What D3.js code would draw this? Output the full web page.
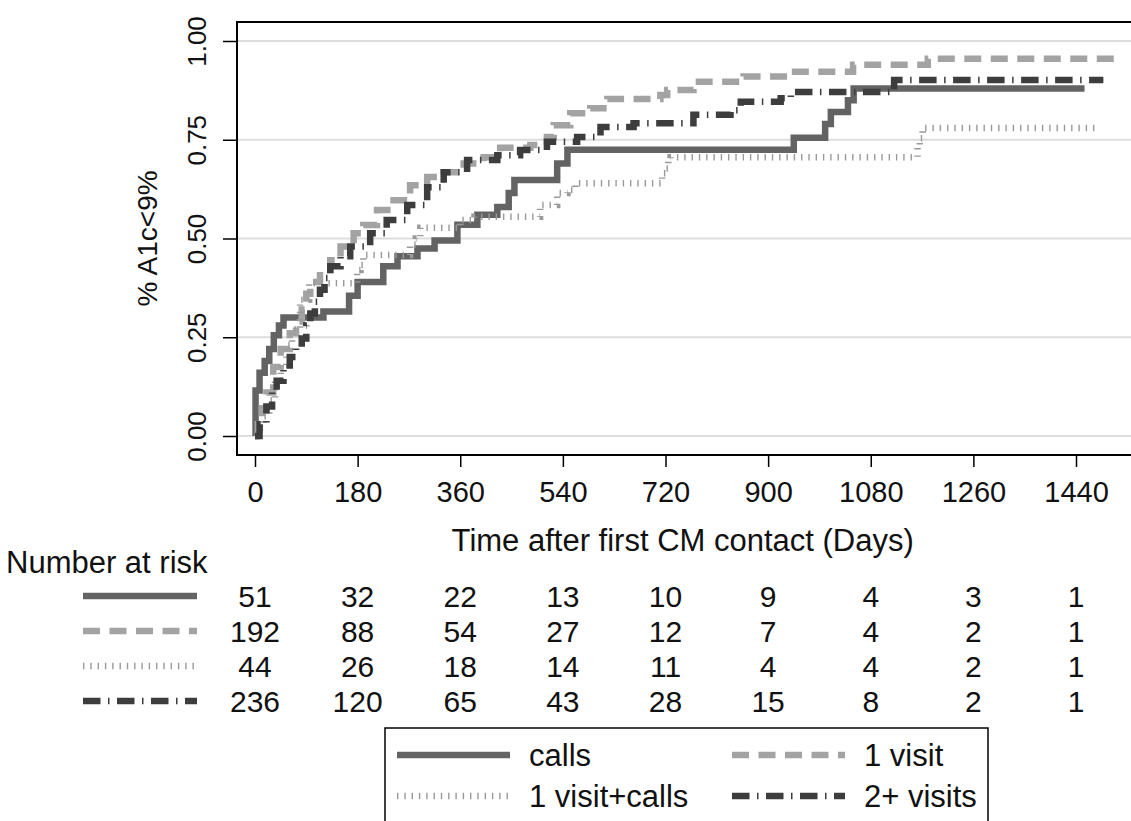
<!DOCTYPE html>
<html>
<head>
<meta charset="utf-8">
<script src="https://cdn.jsdelivr.net/npm/d3@7"></script>
<style>
  body { margin: 0; background: #fff; }
  svg text { font-family: "Liberation Sans", Arial, sans-serif; fill: #111; }
</style>
</head>
<body>
<svg id="chart" width="1131" height="821"></svg>
<script>
// ---- data ----
const groups = ["calls", "1 visit", "1 visit+calls", "2+ visits"];

const callsT = [0, 1, 8, 17, 25, 33, 42, 50, 120, 165, 180, 225, 250, 285, 315, 355, 390, 425, 445, 455, 530, 548, 945, 1000, 1010, 1040, 1050, 1455];
const callsV = [0, 0.115, 0.16, 0.19, 0.22, 0.255, 0.28, 0.30, 0.315, 0.355, 0.39, 0.43, 0.455, 0.475, 0.495, 0.535, 0.56, 0.58, 0.615, 0.648, 0.69, 0.725, 0.755, 0.79, 0.82, 0.85, 0.88, 0.88];

const oneVisitT = [0, 5, 12, 20, 32, 45, 61, 72, 82, 90, 97, 114, 132, 150, 173, 190, 214, 243, 272, 302, 331, 366, 401, 430, 483, 512, 524, 553, 588, 618, 711, 723, 769, 857, 934, 1049, 1180, 1516];
const oneVisitV = [0, 0.03, 0.07, 0.11, 0.175, 0.22, 0.26, 0.29, 0.32, 0.36, 0.39, 0.42, 0.445, 0.48, 0.513, 0.534, 0.572, 0.597, 0.635, 0.656, 0.668, 0.69, 0.706, 0.73, 0.737, 0.757, 0.787, 0.817, 0.83, 0.853, 0.863, 0.876, 0.897, 0.91, 0.922, 0.94, 0.955, 0.955];

const visitCallsT = [0, 5, 15, 25, 35, 45, 55, 65, 79, 95, 179, 185, 190, 272, 282, 290, 360, 385, 500, 530, 548, 562, 714, 720, 725, 729, 1162, 1166, 1171, 1478];
const visitCallsV = [0, 0.02, 0.05, 0.09, 0.14, 0.18, 0.23, 0.27, 0.345, 0.387, 0.42, 0.433, 0.458, 0.484, 0.50, 0.527, 0.547, 0.555, 0.585, 0.615, 0.623, 0.64, 0.665, 0.677, 0.699, 0.706, 0.73, 0.754, 0.78, 0.78];

const twoPlusT = [0, 8, 20, 30, 38, 50, 61, 72, 82, 90, 97, 105, 114, 122, 132, 150, 167, 202, 231, 267, 302, 331, 372, 425, 465, 512, 565, 606, 664, 769, 834, 852, 922, 940, 1121, 1488];
const twoPlusV = [0, 0.03, 0.075, 0.11, 0.14, 0.17, 0.20, 0.225, 0.247, 0.28, 0.31, 0.34, 0.37, 0.40, 0.43, 0.455, 0.48, 0.513, 0.547, 0.585, 0.63, 0.668, 0.699, 0.711, 0.724, 0.745, 0.757, 0.782, 0.792, 0.813, 0.825, 0.846, 0.855, 0.871, 0.901, 0.901];

const xTicks = [0, 180, 360, 540, 720, 900, 1080, 1260, 1440];
const yTicks = [0, 0.25, 0.5, 0.75, 1];

const riskCalls = [51, 32, 22, 13, 10, 9, 4, 3, 1];
const riskOneVisit = [192, 88, 54, 27, 12, 7, 4, 2, 1];
const riskVisitCalls = [44, 26, 18, 14, 11, 4, 4, 2, 1];
const riskTwoPlus = [236, 120, 65, 43, 28, 15, 8, 2, 1];

// ---- styles per group ----
const series = [
  { name: groups[0], t: callsT, v: callsV, risk: riskCalls, color: "#636363", width: 6.5, dash: null },
  { name: groups[1], t: oneVisitT, v: oneVisitV, risk: riskOneVisit, color: "#a3a3a3", width: 6.5, dash: "17,9.5" },
  { name: groups[2], t: visitCallsT, v: visitCallsV, risk: riskVisitCalls, color: "#9a9a9a", width: 6.5, dash: "1.4,5.9" },
  { name: groups[3], t: twoPlusT, v: twoPlusV, risk: riskTwoPlus, color: "#3d3d3d", width: 6.5, dash: "17.5,7.5,1.5,7.5" }
];

const svg = d3.select("#chart");
const x = d3.scaleLinear().domain([0, 1440]).range([255, 1076]);
const y = d3.scaleLinear().domain([0, 1]).range([436, 41]);

const frameLeft = 237, frameTop = 22, frameBottom = 455;
const frameRight = x(1560);

// grid lines
svg.append("g")
  .selectAll("line")
  .data(yTicks)
  .join("line")
  .attr("x1", frameLeft)
  .attr("x2", frameRight)
  .attr("y1", d => y(d))
  .attr("y2", d => y(d))
  .attr("stroke", "#dddddd")
  .attr("stroke-width", 2);

// curves
const line = d3.line()
  .x(d => x(d[0]))
  .y(d => y(d[1]))
  .curve(d3.curveStepAfter);

svg.append("g")
  .selectAll("path")
  .data(series)
  .join("path")
  .attr("d", s => line(s.t.map((t, i) => [t, s.v[i]])))
  .attr("fill", "none")
  .attr("stroke", s => s.color)
  .attr("stroke-width", s => s.width)
  .attr("stroke-dasharray", s => s.dash);

// frame
svg.append("path")
  .attr("d", `M${frameRight},${frameTop}H${frameLeft}V${frameBottom}H${frameRight}`)
  .attr("fill", "none")
  .attr("stroke", "#000")
  .attr("stroke-width", 2);

// x axis
const xAxis = svg.append("g")
  .attr("transform", `translate(0,${frameBottom})`)
  .call(d3.axisBottom(x).tickValues(xTicks).tickSize(12).tickPadding(14).tickFormat(d3.format("d")));
xAxis.select(".domain").remove();
xAxis.selectAll(".tick line").attr("stroke", "#000").attr("stroke-width", 1.5);
xAxis.selectAll(".tick text")
  .attr("font-size", 29)
  .attr("font-family", "Liberation Sans, Arial, sans-serif")
  .attr("fill", "#111");

// y axis
const yAxis = svg.append("g")
  .attr("transform", `translate(${frameLeft},0)`)
  .call(d3.axisLeft(y).tickValues(yTicks).tickSize(14).tickFormat(d3.format(".2f")));
yAxis.select(".domain").remove();
yAxis.selectAll(".tick line").attr("stroke", "#000").attr("stroke-width", 1.5);
yAxis.selectAll(".tick text")
  .attr("x", null)
  .attr("dy", "0.35em")
  .attr("text-anchor", "middle")
  .attr("transform", "translate(-40,0) rotate(-90)")
  .attr("font-size", 26)
  .attr("font-family", "Liberation Sans, Arial, sans-serif")
  .attr("fill", "#111");

// axis titles
svg.append("text")
  .attr("x", (frameLeft + frameRight) / 2 - 8)
  .attr("y", 540)
  .attr("dy", "0.35em")
  .attr("text-anchor", "middle")
  .attr("font-size", 31)
  .text("Time after first CM contact (Days)");

svg.append("text")
  .attr("transform", `translate(147,${(frameTop + frameBottom) / 2}) rotate(-90)`)
  .attr("dy", "0.35em")
  .attr("text-anchor", "middle")
  .attr("font-size", 28)
  .text("% A1c<9%");

// number at risk table
svg.append("text")
  .attr("x", 6)
  .attr("y", 562)
  .attr("dy", "0.35em")
  .attr("font-size", 31)
  .text("Number at risk");

const rowY = d3.scalePoint().domain(groups).range([596, 701]);

const rows = svg.append("g")
  .selectAll("g")
  .data(series)
  .join("g")
  .attr("transform", s => `translate(0,${rowY(s.name)})`);

rows.append("line")
  .attr("x1", 83)
  .attr("x2", 197)
  .attr("stroke", s => s.color)
  .attr("stroke-width", s => s.width)
  .attr("stroke-dasharray", s => s.dash);

rows.selectAll("text")
  .data(s => s.risk.map((n, i) => ({ n, t: xTicks[i] })))
  .join("text")
  .attr("x", d => x(d.t))
  .attr("dy", "0.35em")
  .attr("text-anchor", "middle")
  .attr("font-size", 30)
  .text(d => d.n);

// legend
const legendLeft = 385, legendTop = 728, legendRight = 988;
svg.append("rect")
  .attr("x", legendLeft)
  .attr("y", legendTop)
  .attr("width", legendRight - legendLeft)
  .attr("height", 120)
  .attr("fill", "#fff")
  .attr("stroke", "#000")
  .attr("stroke-width", 1.5);

const legendCol = [397, 732];
const legendRow = [755, 796];
const legendPos = [[0, 0], [1, 0], [0, 1], [1, 1]];

const items = svg.append("g")
  .selectAll("g")
  .data(series)
  .join("g")
  .attr("transform", (s, i) => `translate(${legendCol[legendPos[i][0]]},${legendRow[legendPos[i][1]]})`);

items.append("line")
  .attr("x1", 0)
  .attr("x2", 113)
  .attr("stroke", s => s.color)
  .attr("stroke-width", s => s.width)
  .attr("stroke-dasharray", s => s.dash);

items.append("text")
  .attr("x", 132)
  .attr("dy", "0.35em")
  .attr("font-size", 31)
  .text(s => s.name);
</script>
</body>
</html>
